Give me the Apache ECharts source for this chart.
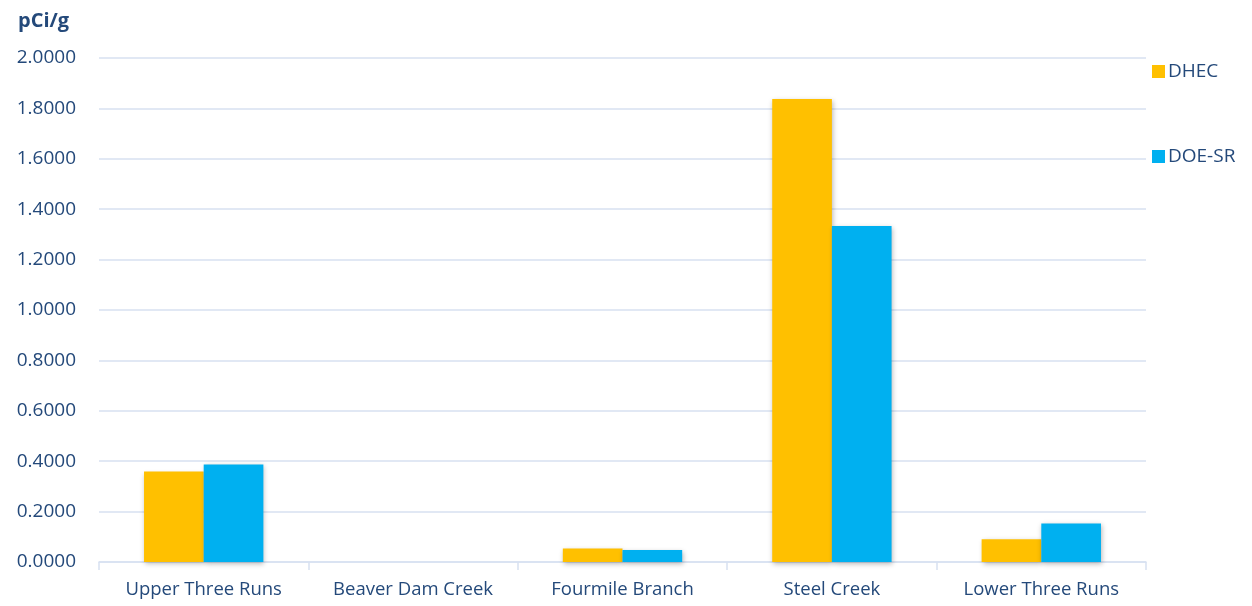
<!DOCTYPE html>
<html>
<head>
<meta charset="utf-8">
<script src="https://cdn.jsdelivr.net/npm/echarts@6/dist/echarts.min.js"></script>
<style>
  html, body { margin: 0; padding: 0; background: #ffffff; }
  #chart { width: 1252px; height: 606px; }
</style>
</head>
<body>
<div id="chart"></div>
<script>
// Sampling locations along the creeks
const categories = ['Upper Three Runs', 'Beaver Dam Creek', 'Fourmile Branch', 'Steel Creek', 'Lower Three Runs'];
// Concentrations in pCi/g reported by each agency
const dhecValues = [0.359, null, 0.054, 1.837, 0.090];
const doeValues = [0.387, null, 0.048, 1.333, 0.153];
const seriesNames = ['DHEC', 'DOE-SR'];
const unitLabel = 'pCi/g';

const textColor = '#24497a';
const lineColor = '#d7e1f1';
const fontFamily = 'Open Sans, sans-serif';

const barShadow = {
  shadowColor: 'rgba(0,0,0,0.28)',
  shadowBlur: 5,
  shadowOffsetX: 1,
  shadowOffsetY: 2
};

const chart = echarts.init(document.getElementById('chart'));
chart.setOption({
  animation: false,
  textStyle: { fontFamily: fontFamily },
  title: {
    text: unitLabel,
    left: 13,
    top: 6,
    textStyle: { color: textColor, fontSize: 20, fontWeight: 'bold', fontFamily: fontFamily }
  },
  legend: {
    orient: 'vertical',
    left: 1147,
    top: 57,
    itemWidth: 13,
    itemHeight: 13,
    itemGap: 66,
    icon: 'rect',
    textStyle: { color: textColor, fontSize: 19, fontFamily: fontFamily, padding: [0, 0, 0, -2] },
    data: seriesNames
  },
  grid: { left: 99, right: 106, top: 58, bottom: 44 },
  xAxis: {
    type: 'category',
    data: categories,
    axisLine: { lineStyle: { color: lineColor, width: 1.5 } },
    axisTick: { show: true, interval: 0, length: 8, lineStyle: { color: lineColor, width: 1.5 } },
    axisLabel: { color: textColor, fontSize: 18.5, margin: 18, interval: 0, hideOverlap: false, fontFamily: fontFamily }
  },
  yAxis: {
    type: 'value',
    min: 0,
    max: 2,
    interval: 0.2,
    axisLine: { show: false },
    axisTick: { show: false },
    splitLine: { lineStyle: { color: lineColor, width: 1.5 } },
    axisLabel: {
      color: textColor,
      fontSize: 19,
      margin: 23,
      fontFamily: fontFamily,
      formatter: v => v.toFixed(4)
    }
  },
  series: [
    {
      name: seriesNames[0],
      type: 'bar',
      data: dhecValues,
      barGap: '0%',
      barCategoryGap: '43%',
      itemStyle: Object.assign({ color: '#ffc000' }, barShadow)
    },
    {
      name: seriesNames[1],
      type: 'bar',
      data: doeValues,
      barGap: '0%',
      barCategoryGap: '43%',
      itemStyle: Object.assign({ color: '#00b0f0' }, barShadow)
    }
  ]
});
</script>
</body>
</html>
